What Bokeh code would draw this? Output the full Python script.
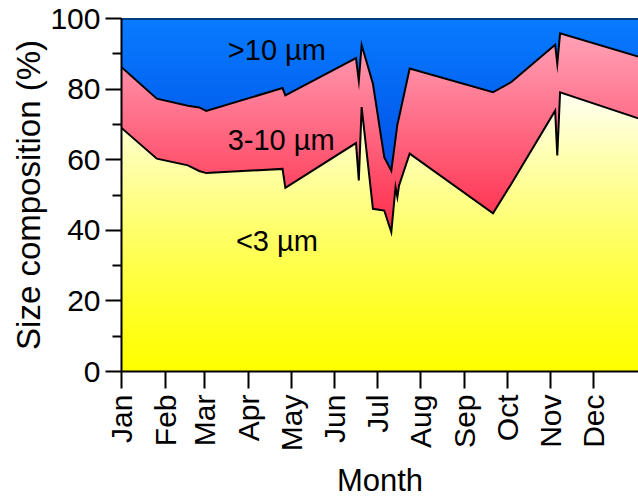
import numpy as np
from bokeh.plotting import figure
from bokeh.models import FixedTicker, Range1d, Span
from bokeh.core.properties import value
from bokeh.embed import file_html
from bokeh.resources import INLINE

# ---- data (day of year, % of total) ----
days = [0, 25, 47, 55, 60, 114, 116, 166, 168, 170, 178, 186, 191, 194, 195.3,
        196.5, 204, 263, 276, 307, 308.5, 310.5, 366]
pct_lt3 = [69.0, 60.3, 58.4, 56.8, 56.2, 57.4, 52.0, 64.7, 54.1, 74.9, 46.1, 45.6,
           39.5, 52.2, 49.4, 52.7, 61.7, 44.8, 53.2, 73.9, 61.2, 79.1, 71.7]
pct_3_10 = [17.2, 17.0, 16.9, 18.0, 17.6, 22.9, 26.2, 24.1, 28.3, 17.6, 35.4, 15.1,
            17.4, 13.8, 20.6, 19.3, 24.1, 34.3, 28.8, 18.7, 26.0, 16.7, 17.5]

month_starts = [0, 31, 59, 90, 120, 151, 181, 212, 243, 273, 304, 334]
month_labels = ["Jan", "Feb", "Mar", "Apr", "May", "Jun", "Jul", "Aug", "Sep",
                "Oct", "Nov", "Dec"]
y_ticks = [0, 20, 40, 60, 80, 100]
y_minor = [10, 30, 50, 70, 90]

area_labels = [">10 \u00b5m", "3-10 \u00b5m", "<3 \u00b5m"]
label_x = [110, 113, 110]
label_y = [91, 65.5, 37]

x_title = "Month"
y_title = "Size composition (%)"

x = np.array(days, dtype=float)
lower = np.array(pct_lt3, dtype=float)
upper = lower + np.array(pct_3_10, dtype=float)

FONT = "Liberation Sans"


def clipped(xs, ys, c, fn):
    """Polyline of fn(ys, c) with crossing points with level c inserted."""
    ox, oy = [xs[0]], [fn(ys[0], c)]
    for i in range(len(xs) - 1):
        y0, y1 = ys[i], ys[i + 1]
        if (y0 - c) * (y1 - c) < 0:
            t = (c - y0) / (y1 - y0)
            ox.append(xs[i] + t * (xs[i + 1] - xs[i]))
            oy.append(c)
        ox.append(xs[i + 1])
        oy.append(fn(y1, c))
    return np.array(ox), np.array(oy)


def mix(c0, c1, t):
    t = min(max(t, 0.0), 1.0)
    r = [int(round(a + (b - a) * t)) for a, b in zip(c0, c1)]
    return "#%02x%02x%02x" % tuple(r)


def yellow(yv):
    return mix((255, 255, 0), (255, 255, 246), (yv / 80.0) ** 1.2 if yv > 0 else 0)


def pink(yv):
    return mix((255, 45, 75), (255, 160, 182), (yv - 40) / 55.0)


def blue(yv):
    return mix((0, 78, 228), (8, 124, 255), (yv - 55) / 45.0)


p = figure(width=638, height=501, x_range=Range1d(0, 366), y_range=Range1d(0, 100),
           output_backend="svg", toolbar_location=None,
           min_border_left=121, min_border_right=0, min_border_top=18,
           min_border_bottom=130)
p.outline_line_color = None
p.grid.visible = False
p.background_fill_color = "white"

step = 1.0
# pink (3-10 um) gradient bands
top_c = np.ceil(upper.max())
bot_c = np.floor(lower.min()) - 1
c = top_c
while c >= bot_c:
    xx, yy = clipped(x, upper, c, min)
    p.varea(x=xx, y1=np.zeros_like(yy), y2=yy, fill_color=pink(c - step / 2))
    c -= step

# yellow (<3 um) gradient bands
c = np.ceil(lower.max())
while c >= 1:
    xx, yy = clipped(x, lower, c, min)
    p.varea(x=xx, y1=np.zeros_like(yy), y2=yy, fill_color=yellow(c - step / 2))
    c -= step

# blue (>10 um) gradient bands
c = np.floor(upper.min())
while c <= 99:
    xx, yy = clipped(x, upper, c, max)
    p.varea(x=xx, y1=yy, y2=np.full_like(yy, 100.0), fill_color=blue(c + step / 2))
    c += step

p.line(x, lower, line_color="black", line_width=2, line_join="miter")
p.line(x, upper, line_color="black", line_width=2, line_join="miter")
p.add_layout(Span(location=100, dimension="width", line_color="black", line_width=2))

p.text(x=label_x, y=label_y, text=area_labels, text_font=value(FONT),
       text_font_size="29px", text_align="center", text_baseline="middle",
       text_color="black")

# axes
p.xaxis.ticker = FixedTicker(ticks=month_starts)
p.xaxis.major_label_overrides = {m: l for m, l in zip(month_starts, month_labels)}
p.xaxis.major_label_orientation = np.pi / 2
p.xaxis.axis_label = x_title
p.yaxis.ticker = FixedTicker(ticks=y_ticks, minor_ticks=y_minor)
p.yaxis.axis_label = y_title

for ax in (p.xaxis[0], p.yaxis[0]):
    ax.axis_line_color = "black"
    ax.axis_line_width = 2
    ax.major_tick_line_color = "black"
    ax.major_tick_line_width = 2
    ax.minor_tick_line_color = "black"
    ax.minor_tick_line_width = 2
    ax.major_tick_in = 0
    ax.minor_tick_in = 0
    ax.major_label_text_font = FONT
    ax.major_label_text_font_size = "30px"
    ax.major_label_text_color = "black"
    ax.axis_label_text_font = FONT
    ax.axis_label_text_font_style = "normal"
    ax.axis_label_text_color = "black"

p.xaxis.axis_label_text_font_size = "31px"
p.yaxis.axis_label_text_font_size = "33px"
p.xaxis.major_tick_out = 17
p.xaxis.major_label_standoff = 6
p.xaxis.axis_label_standoff = 9
p.yaxis.major_tick_out = 16
p.yaxis.minor_tick_out = 9
p.yaxis.major_label_standoff = 5
p.yaxis.axis_label_standoff = 0

open("out.html", "w").write(file_html(p, INLINE))
